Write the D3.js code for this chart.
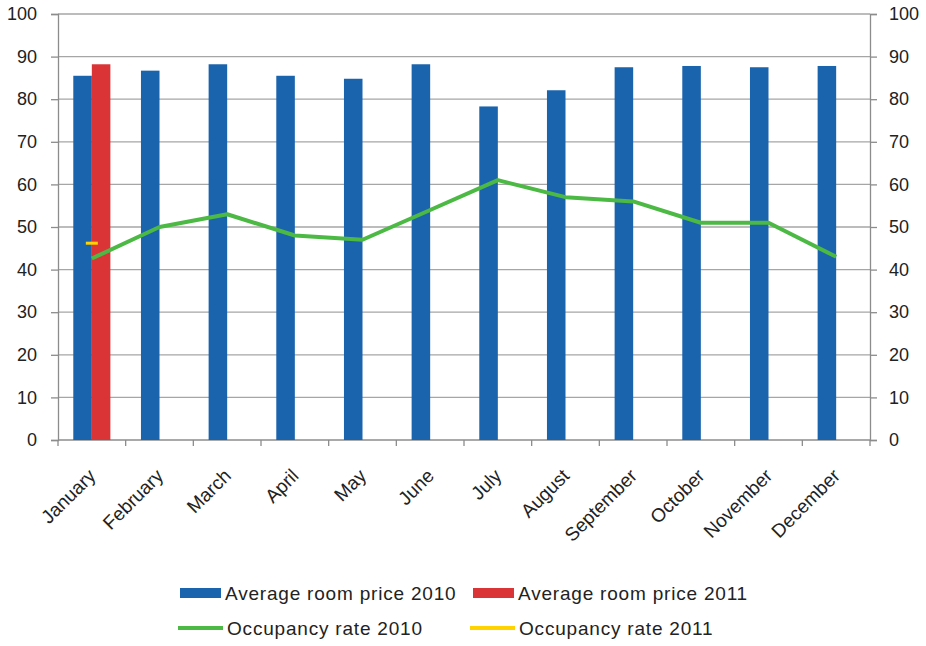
<!DOCTYPE html>
<html>
<head>
<meta charset="utf-8">
<script src="https://cdn.jsdelivr.net/npm/d3@7"></script>
<style>
  body { margin: 0; background: #fff; }
  svg text { font-family: "Liberation Sans", Arial, sans-serif; fill: #222; }
</style>
</head>
<body>
<div id="chart"></div>
<script>
// chart data
const months = ['January', 'February', 'March', 'April', 'May', 'June', 'July',
  'August', 'September', 'October', 'November', 'December'];
const price2010 = [85.5, 86.7, 88.2, 85.5, 84.8, 88.2, 78.3, 82.1, 87.5, 87.8, 87.5, 87.8];
const price2011 = [88.2, null, null, null, null, null, null, null, null, null, null, null];
const occupancy2010 = [42.6, 50, 53, 48, 47, 54, 61, 57, 56, 51, 51, 43];
const occupancy2011 = [46.2, null, null, null, null, null, null, null, null, null, null, null];
const yTicks = [0, 10, 20, 30, 40, 50, 60, 70, 80, 90, 100];

const colors = { p2010: '#1a63ad', p2011: '#da3437', o2010: '#4cb944', o2011: '#ffd200' };

const width = 926, height = 646;
const margin = { top: 14, right: 56, bottom: 206, left: 58 };

const svg = d3.select('#chart').append('svg')
  .attr('width', width).attr('height', height);

const chartW = width - margin.left - margin.right;
const chartH = height - margin.top - margin.bottom;
const g = svg.append('g').attr('transform', `translate(${margin.left},${margin.top})`);

const x = d3.scaleBand().domain(months).range([0, chartW]);
const xInner = d3.scaleBand().domain(['p2010', 'p2011'])
  .range([x.bandwidth() * 0.226, x.bandwidth() * 0.774]);
const y = d3.scaleLinear().domain([0, 100]).range([chartH, 0]);

// gridlines
g.append('g').selectAll('line').data(yTicks.slice(1)).join('line')
  .attr('x1', 0).attr('x2', chartW)
  .attr('y1', d => y(d)).attr('y2', d => y(d))
  .attr('stroke', '#a6a6a6').attr('stroke-width', 1.3);

// axes
const axisL = g.append('g').call(d3.axisLeft(y).tickValues(yTicks).tickSize(7).tickPadding(14));
const axisR = g.append('g').attr('transform', `translate(${chartW},0)`)
  .call(d3.axisRight(y).tickValues(yTicks).tickSize(7).tickPadding(12));
[axisL, axisR].forEach(a => {
  a.select('.domain').attr('stroke', '#8c8c8c').attr('stroke-width', 1.3);
  a.selectAll('.tick line').attr('stroke', '#8c8c8c').attr('stroke-width', 1.3);
  a.selectAll('.tick text').attr('font-size', 18).attr('fill', '#222')
    .attr('font-family', '"Liberation Sans", Arial, sans-serif');
});

// x axis baseline + boundary ticks
const axisB = g.append('g').attr('transform', `translate(0,${chartH})`);
axisB.append('line').attr('x1', 0).attr('x2', chartW)
  .attr('stroke', '#8c8c8c').attr('stroke-width', 1.3);
axisB.selectAll('line.tk').data(d3.range(months.length + 1)).join('line')
  .attr('class', 'tk')
  .attr('x1', i => i * x.step()).attr('x2', i => i * x.step())
  .attr('y1', 0).attr('y2', 6)
  .attr('stroke', '#8c8c8c').attr('stroke-width', 1.3);
axisB.selectAll('text').data(months).join('text')
  .attr('transform', d => `translate(${x(d) + x.bandwidth() / 2 + 5},${37}) rotate(-45)`)
  .attr('text-anchor', 'end')
  .attr('font-size', 19)
  .text(d => d);

// bars
const barData = months.flatMap((m, i) => [
  { m, key: 'p2010', v: price2010[i] },
  { m, key: 'p2011', v: price2011[i] }
]).filter(d => d.v != null);
g.append('g').selectAll('rect').data(barData).join('rect')
  .attr('x', d => x(d.m) + xInner(d.key))
  .attr('width', xInner.bandwidth())
  .attr('y', d => y(d.v))
  .attr('height', d => chartH - y(d.v))
  .attr('fill', d => colors[d.key]);

// occupancy lines
const line = d3.line()
  .x((d, i) => x(months[i]) + x.bandwidth() / 2)
  .y(d => y(d))
  .defined(d => d != null);
g.append('path').datum(occupancy2010)
  .attr('d', line)
  .attr('fill', 'none')
  .attr('stroke', colors.o2010)
  .attr('stroke-width', 4)
  .attr('stroke-linejoin', 'round');

// single 2011 occupancy point shown as a short dash
g.append('g').selectAll('line').data(occupancy2011.map((v, i) => ({ m: months[i], v })).filter(d => d.v != null))
  .join('line')
  .attr('x1', d => x(d.m) + x.bandwidth() / 2 - 6)
  .attr('x2', d => x(d.m) + x.bandwidth() / 2 + 6)
  .attr('y1', d => y(d.v)).attr('y2', d => y(d.v))
  .attr('stroke', colors.o2011).attr('stroke-width', 3);

// legend
const legendItems = [
  { label: 'Average room price 2010', key: 'p2010', type: 'rect', x: 180, y: 593 },
  { label: 'Average room price 2011', key: 'p2011', type: 'rect', x: 473, y: 593 },
  { label: 'Occupancy rate 2010', key: 'o2010', type: 'line', x: 178, y: 628 },
  { label: 'Occupancy rate 2011', key: 'o2011', type: 'line', x: 470, y: 628 }
];
const legend = svg.append('g').selectAll('g').data(legendItems).join('g')
  .attr('transform', d => `translate(${d.x},${d.y})`);
legend.filter(d => d.type === 'rect').append('rect')
  .attr('x', 0).attr('y', -5).attr('width', 41).attr('height', 10)
  .attr('fill', d => colors[d.key]);
legend.filter(d => d.type === 'line').append('line')
  .attr('x1', 0).attr('x2', 45).attr('y1', 0).attr('y2', 0)
  .attr('stroke', d => colors[d.key]).attr('stroke-width', 4);
legend.append('text')
  .attr('x', d => d.type === 'rect' ? 45 : 49)
  .attr('dy', '0.35em')
  .attr('font-size', 19)
  .attr('letter-spacing', 0.8)
  .text(d => d.label);
</script>
</body>
</html>
